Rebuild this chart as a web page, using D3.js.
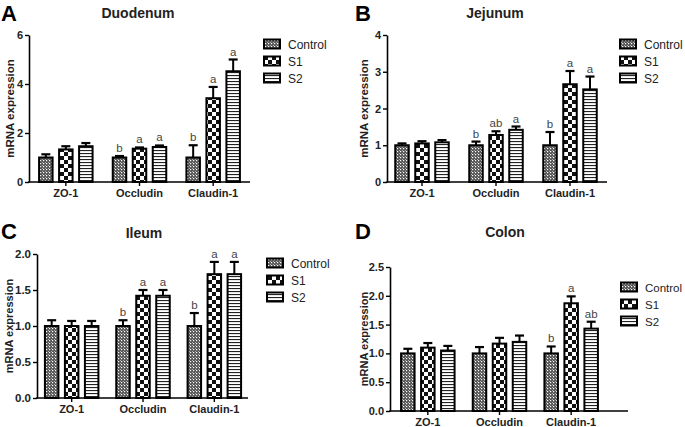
<!DOCTYPE html>
<html><head><meta charset="utf-8">
<script src="https://cdn.jsdelivr.net/npm/d3@7"></script>
<style>
body{margin:0;background:#fff}
svg{display:block;font-family:"Liberation Sans",Arial,Helvetica,sans-serif}
</style>
</head><body>
<svg id="chart" width="685" height="427"></svg>
<script>
// ---------- DATA ----------
const categories = ["ZO-1", "Occludin", "Claudin-1"];
const groups = ["Control", "S1", "S2"];

// values per category: [Control, S1, S2]
const duodenumMeans   = [[1.00, 1.33, 1.46], [1.00, 1.36, 1.43], [1.00, 3.42, 4.52]];
const duodenumErrors  = [[0.13, 0.13, 0.13], [0.06, 0.05, 0.06], [0.50, 0.46, 0.48]];
const duodenumLetters = [["", "", ""], ["b", "a", "a"], ["b", "a", "a"]];
const duodenumTicks   = [0, 2, 4, 6];

const jejunumMeans   = [[1.00, 1.05, 1.08], [1.00, 1.28, 1.42], [1.00, 2.66, 2.52]];
const jejunumErrors  = [[0.05, 0.06, 0.06], [0.10, 0.10, 0.09], [0.36, 0.36, 0.35]];
const jejunumLetters = [["", "", ""], ["b", "ab", "a"], ["b", "a", "a"]];
const jejunumTicks   = [0, 1, 2, 3, 4];

const ileumMeans   = [[1.00, 1.00, 1.00], [1.00, 1.42, 1.42], [1.00, 1.72, 1.72]];
const ileumErrors  = [[0.08, 0.07, 0.07], [0.08, 0.08, 0.08], [0.18, 0.17, 0.17]];
const ileumLetters = [["", "", ""], ["b", "a", "a"], ["b", "a", "a"]];
const ileumTicks   = [0, 0.5, 1.0, 1.5, 2.0];

const colonMeans   = [[1.00, 1.10, 1.05], [1.00, 1.17, 1.20], [1.00, 1.87, 1.43]];
const colonErrors  = [[0.08, 0.08, 0.08], [0.11, 0.10, 0.11], [0.12, 0.12, 0.12]];
const colonLetters = [["", "", ""], ["", "", ""], ["b", "a", "ab"]];
const colonTicks   = [0, 0.5, 1.0, 1.5, 2.0, 2.5];

const panelLetters = ["A", "B", "C", "D"];
const panelTitles  = ["Duodenum", "Jejunum", "Ileum", "Colon"];
const yAxisLabel   = "mRNA expression";

// ---------- LAYOUT ----------
const panels = [
  {letter: panelLetters[0], title: panelTitles[0], means: duodenumMeans, errors: duodenumErrors, letters: duodenumLetters, ticks: duodenumTicks, fmt: d3.format("d"),
   axisX: 29, band: [29, 250], axisEnd: 250, yTop: 35, yBot: 182,
   letterPos: [1, 21], titlePos: [138, 18], ylabX: 10, ylabSize: 11.5, tickSize: 11,
   legend: [264, 44], legFont: 12},
  {letter: panelLetters[1], title: panelTitles[1], means: jejunumMeans, errors: jejunumErrors, letters: jejunumLetters, ticks: jejunumTicks, fmt: d3.format("d"),
   axisX: 387, band: [385, 607], axisEnd: 607, yTop: 35, yBot: 182,
   letterPos: [355, 21], titlePos: [495, 18], ylabX: 364, ylabSize: 11.5, tickSize: 11,
   legend: [620, 44], legFont: 12},
  {letter: panelLetters[2], title: panelTitles[2], means: ileumMeans, errors: ileumErrors, letters: ileumLetters, ticks: ileumTicks, fmt: d3.format(".1f"),
   axisX: 37, band: [36, 250], axisEnd: 248, yTop: 254, yBot: 398,
   letterPos: [1, 239], titlePos: [144, 238], ylabX: 9, ylabSize: 11, tickSize: 11.5,
   legend: [267, 263], legFont: 12},
  {letter: panelLetters[3], title: panelTitles[3], means: colonMeans, errors: colonErrors, letters: colonLetters, ticks: colonTicks, fmt: d3.format(".1f"),
   axisX: 390, band: [392, 607], axisEnd: 628, yTop: 267, yBot: 411,
   letterPos: [355, 239], titlePos: [505, 237], ylabX: 364, ylabSize: 11, tickSize: 11,
   legend: [621, 287], legFont: 11.5}
];

const svg = d3.select("#chart");
const defs = svg.append("defs");

// patterns
const pCtrl = defs.append("pattern").attr("id", "pCtrl").attr("patternUnits", "userSpaceOnUse").attr("width", 3).attr("height", 3);
pCtrl.append("rect").attr("width", 3).attr("height", 3).attr("fill", "#555");
pCtrl.append("rect").attr("x", 1).attr("y", 1).attr("width", 1.2).attr("height", 1.2).attr("fill", "#fff");
pCtrl.append("rect").attr("x", 0).attr("y", 0).attr("width", 0.8).attr("height", 0.8).attr("fill", "#ddd");

const pS1 = defs.append("pattern").attr("id", "pS1").attr("patternUnits", "userSpaceOnUse").attr("width", 8).attr("height", 8);
pS1.append("rect").attr("width", 8).attr("height", 8).attr("fill", "#fff");
pS1.append("rect").attr("x", 0).attr("y", 0).attr("width", 4).attr("height", 4).attr("fill", "#111");
pS1.append("rect").attr("x", 4).attr("y", 4).attr("width", 4).attr("height", 4).attr("fill", "#111");

const pS2 = defs.append("pattern").attr("id", "pS2").attr("patternUnits", "userSpaceOnUse").attr("width", 4).attr("height", 3);
pS2.append("rect").attr("width", 4).attr("height", 3).attr("fill", "#fff");
pS2.append("rect").attr("x", 0).attr("y", 0).attr("width", 4).attr("height", 1.1).attr("fill", "#222");

const fills = {Control: "url(#pCtrl)", S1: "url(#pS1)", S2: "url(#pS2)"};

const barW = 13.5;

panels.forEach(p => {
  const g = svg.append("g");
  const y = d3.scaleLinear().domain([0, p.ticks[p.ticks.length - 1]]).range([p.yBot, p.yTop]);
  const x = d3.scaleBand().domain(categories).range(p.band);
  const sub = d3.scaleBand().domain(groups).range([-30, 30]);

  // bars
  categories.forEach((c, ci) => {
    groups.forEach((gr, gi) => {
      const cx = x(c) + x.bandwidth() / 2 + sub(gr) + sub.bandwidth() / 2;
      const v = p.means[ci][gi];
      const e = p.errors[ci][gi];
      g.append("line").attr("x1", cx).attr("x2", cx).attr("y1", y(v)).attr("y2", y(v + e))
        .attr("stroke", "#000").attr("stroke-width", 2);
      g.append("line").attr("x1", cx - 4.5).attr("x2", cx + 4.5).attr("y1", y(v + e)).attr("y2", y(v + e))
        .attr("stroke", "#000").attr("stroke-width", 2.2);
      g.append("rect").attr("x", cx - barW / 2).attr("y", y(v)).attr("width", barW).attr("height", y(0) - y(v))
        .attr("fill", fills[gr]).attr("stroke", "#000").attr("stroke-width", 2);
      const lt = p.letters[ci][gi];
      if (lt) {
        g.append("text").attr("x", cx).attr("y", y(v + e) - 4).attr("text-anchor", "middle")
          .attr("font-size", 11.5).attr("fill", "#444").text(lt);
      }
    });
  });

  // y axis
  const ya = g.append("g").attr("transform", `translate(${p.axisX},0)`)
    .call(d3.axisLeft(y).tickValues(p.ticks).tickFormat(p.fmt).tickSize(4).tickSizeOuter(0).tickPadding(2));
  ya.select(".domain").attr("stroke-width", 1.6);
  ya.selectAll(".tick line").attr("stroke-width", 1.4);
  ya.selectAll("text").attr("font-size", p.tickSize).attr("font-weight", "bold").attr("fill", "#222")
    .attr("font-family", "'Liberation Sans',Arial,sans-serif");

  // x axis
  const xa = g.append("g").attr("transform", `translate(0,${p.yBot})`)
    .call(d3.axisBottom(x).tickSize(4).tickSizeOuter(0).tickPadding(3));
  xa.select(".domain").remove();
  xa.selectAll(".tick line").attr("stroke-width", 1.4);
  xa.selectAll("text").attr("font-size", 11).attr("font-weight", "bold").attr("fill", "#222")
    .attr("font-family", "'Liberation Sans',Arial,sans-serif");
  g.append("line").attr("x1", p.axisX - 0.8).attr("x2", p.axisEnd).attr("y1", p.yBot).attr("y2", p.yBot)
    .attr("stroke", "#000").attr("stroke-width", 1.6);

  // y label
  g.append("text").attr("transform", `translate(${p.ylabX},${(p.yTop + p.yBot) / 2}) rotate(-90)`)
    .attr("text-anchor", "middle").attr("dominant-baseline", "central")
    .attr("font-size", p.ylabSize).attr("font-weight", "bold").attr("fill", "#222").text(yAxisLabel);

  // title
  g.append("text").attr("x", p.titlePos[0]).attr("y", p.titlePos[1]).attr("text-anchor", "middle")
    .attr("font-size", 14).attr("font-weight", "bold").attr("fill", "#222").text(p.title);

  // panel letter
  g.append("text").attr("x", p.letterPos[0]).attr("y", p.letterPos[1])
    .attr("font-size", 22).attr("font-weight", "bold").attr("fill", "#000").text(p.letter);

  // legend
  groups.forEach((gr, gi) => {
    const ly = p.legend[1] + gi * 17;
    g.append("rect").attr("x", p.legend[0]).attr("y", ly - 4.5).attr("width", 16).attr("height", 9)
      .attr("fill", fills[gr]).attr("stroke", "#000").attr("stroke-width", 2);
    g.append("text").attr("x", p.legend[0] + 24).attr("y", ly + 4.5)
      .attr("font-size", p.legFont).attr("fill", "#222").text(gr);
  });
});
</script>
</body></html>
